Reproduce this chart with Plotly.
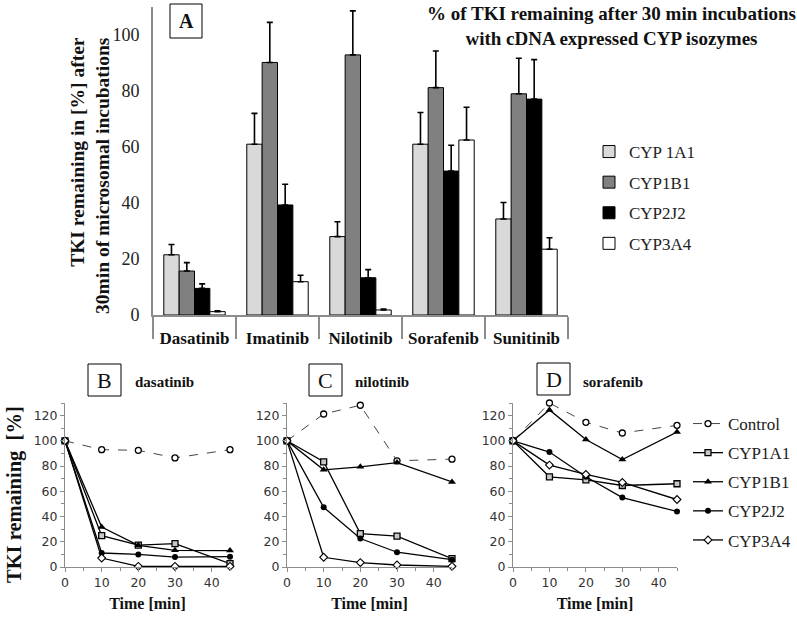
import plotly.graph_objects as go

drugs = ["Dasatinib", "Imatinib", "Nilotinib", "Sorafenib", "Sunitinib"]
cyp_names = ["CYP 1A1", "CYP1B1", "CYP2J2", "CYP3A4"]

# % remaining after 30 min (panel A) and upper error
cyp1a1 = [21.5, 61, 28, 61, 34.3]
cyp1a1_err = [3.7, 11, 5.3, 11.3, 5.9]
cyp1b1 = [15.7, 90.2, 92.9, 81.2, 79]
cyp1b1_err = [3, 14.3, 15.7, 13.1, 12.7]
cyp2j2 = [9.5, 39.3, 13.3, 51.4, 77.1]
cyp2j2_err = [1.6, 7.4, 2.9, 9.2, 14.1]
cyp3a4 = [1.2, 11.9, 1.8, 62.5, 23.5]
cyp3a4_err = [0.3, 2.3, 0.3, 11.7, 4.1]

# time courses (panels B-D)
time_min = [0, 10, 20, 30, 45]
line_names = ["Control", "CYP1A1", "CYP1B1", "CYP2J2", "CYP3A4"]

dasa_control = [100, 93, 92.5, 86.5, 93]
dasa_1a1 = [100, 24.8, 17.4, 18.5, 2.6]
dasa_1b1 = [100, 31.7, 17.2, 13.2, 13]
dasa_2j2 = [100, 11.1, 10, 7.9, 8.2]
dasa_3a4 = [100, 7.1, 0.5, 0.5, 0.5]

nilo_control = [100, 121.3, 128.2, 84.2, 85.5]
nilo_1a1 = [100, 83.4, 26.5, 24.4, 6.6]
nilo_1b1 = [100, 77, 79.4, 82.8, 67.4]
nilo_2j2 = [100, 47.3, 22.6, 11.7, 5.8]
nilo_3a4 = [100, 7.7, 3.5, 1.6, 0.5]

sora_control = [100, 130, 114.7, 106.2, 112.3]
sora_1a1 = [100, 71.5, 69.1, 64.6, 66]
sora_1b1 = [100, 124.5, 101.1, 85.2, 107]
sora_2j2 = [100, 91.1, 71.5, 55, 44]
sora_3a4 = [100, 80.8, 73.4, 67, 53.5]

SERIF = "Liberation Serif"
SANS = "DejaVu Sans"
W, H = 797, 619


def px_x(v):
    return v / W


def px_y(v):
    return 1 - v / H


fig = go.Figure()

bar_colors = ["#d9d9d9", "#808080", "#000000", "#ffffff"]
bar_vals = [cyp1a1, cyp1b1, cyp2j2, cyp3a4]
bar_errs = [cyp1a1_err, cyp1b1_err, cyp2j2_err, cyp3a4_err]
for name, vals, errs, col in zip(cyp_names, bar_vals, bar_errs, bar_colors):
    fig.add_trace(go.Bar(
        x=drugs, y=vals, name=name, xaxis="x", yaxis="y",
        marker=dict(color=col, line=dict(color="black", width=1)),
        error_y=dict(type="data", symmetric=False, array=errs,
                     arrayminus=[0] * len(errs), color="black",
                     thickness=1.6, width=3),
        legend="legend", legendgroup=name,
    ))

styles = [
    dict(line=dict(color="#444", width=1, dash="dash"),
         marker=dict(symbol="circle", size=6, color="white", line=dict(color="black", width=1.3))),
    dict(line=dict(color="black", width=1.3),
         marker=dict(symbol="square", size=6, color="#c8c8c8", line=dict(color="black", width=1.3))),
    dict(line=dict(color="black", width=1.3),
         marker=dict(symbol="triangle-up", size=7, color="black")),
    dict(line=dict(color="black", width=1.3),
         marker=dict(symbol="circle", size=6, color="black")),
    dict(line=dict(color="black", width=1.3),
         marker=dict(symbol="diamond", size=6, color="white", line=dict(color="black", width=1.1))),
]

panels = [
    ("2", [dasa_control, dasa_1a1, dasa_1b1, dasa_2j2, dasa_3a4], True),
    ("3", [nilo_control, nilo_1a1, nilo_1b1, nilo_2j2, nilo_3a4], False),
    ("4", [sora_control, sora_1a1, sora_1b1, sora_2j2, sora_3a4], False),
]
for ax, series, show in panels:
    for name, ys, st in zip(line_names, series, styles):
        fig.add_trace(go.Scatter(
            x=time_min, y=ys, name=name, mode="lines+markers",
            xaxis="x" + ax, yaxis="y" + ax, cliponaxis=False,
            showlegend=show, legend="legend2", legendgroup=name, **st,
        ))

axis_gray = "#8c8c8c"
layout = dict(
    width=W, height=H, margin=dict(l=0, r=0, t=0, b=0, autoexpand=False),
    paper_bgcolor="white", plot_bgcolor="white",
    barmode="group", bargap=0.26, bargroupgap=0,
    xaxis=dict(domain=[px_x(153), px_x(568)], anchor="y", automargin=False,
               showline=True, linecolor=axis_gray, linewidth=2,
               tickson="boundaries", ticks="outside", ticklen=22, tickwidth=2,
               tickcolor=axis_gray, ticklabelstandoff=7,
               tickfont=dict(family=SERIF, size=17, color="#111", weight="bold")),
    yaxis=dict(domain=[px_y(315), px_y(7)], anchor="x", range=[0, 110], automargin=False,
               tickvals=[0, 20, 40, 60, 80, 100], showgrid=False, zeroline=False,
               showline=True, linecolor=axis_gray, linewidth=2, ticks="",
               ticklabelstandoff=8,
               tickfont=dict(family=SERIF, size=18, color="#222")),
    legend=dict(x=px_x(589), y=px_y(134), xanchor="left", yanchor="top",
                traceorder="grouped", tracegroupgap=5.5, itemwidth=30,
                font=dict(family=SERIF, size=17, color="#222")),
    legend2=dict(x=px_x(688), y=px_y(406), xanchor="left", yanchor="top",
                 traceorder="grouped", tracegroupgap=4, itemwidth=30,
                 font=dict(family=SERIF, size=17, color="#222")),
)

bottom_domains = {"2": (65, 230), "3": (287, 452), "4": (513, 677)}
for ax, (x0, x1) in bottom_domains.items():
    layout["xaxis" + ax] = dict(
        domain=[px_x(x0), px_x(x1)], anchor="y" + ax, range=[0, 45], automargin=False,
        tickvals=[0, 10, 20, 30, 40], showgrid=False, zeroline=False,
        showline=True, linecolor=axis_gray, linewidth=1,
        ticks="outside", ticklen=4, tickcolor=axis_gray,
        minor=dict(dtick=5, ticks="outside", ticklen=3, tickcolor=axis_gray),
        tickfont=dict(family=SANS, size=12.5, color="#333"),
        title=dict(text="Time [min]", standoff=8,
                   font=dict(family=SERIF, size=16, color="#111", weight="bold")),
    )
    layout["yaxis" + ax] = dict(
        domain=[px_y(567), px_y(403)], anchor="x" + ax, range=[0, 130], automargin=False,
        tickvals=[0, 20, 40, 60, 80, 100, 120], showgrid=False, zeroline=False,
        showline=True, linecolor=axis_gray, linewidth=1,
        ticks="outside", ticklen=4, tickcolor=axis_gray,
        minor=dict(dtick=10, ticks="outside", ticklen=3, tickcolor=axis_gray),
        tickfont=dict(family=SANS, size=12.5, color="#333"),
    )

fig.update_layout(**layout)

annotations = [
    dict(x=px_x(611), y=px_y(26), text="% of TKI remaining after 30 min incubations<br>with cDNA expressed CYP isozymes",
         font=dict(family=SERIF, size=19, color="#111", weight="bold")),
    dict(x=px_x(90), y=px_y(176), textangle=-90, align="right",
         text="TKI remaining in [%] after<br>30min of microsomal incubations",
         font=dict(family=SERIF, size=19.5, color="#111", weight="bold")),
    dict(x=px_x(186), y=px_y(21), text="A",
         font=dict(family=SERIF, size=20, color="#111", weight="bold")),
    dict(x=px_x(14), y=px_y(495), textangle=-90, text="TKI remaining  [%]",
         font=dict(family=SERIF, size=20.5, color="#111", weight="bold")),
]
boxes = [("B", "dasatinib", 88, 364, 133), ("C", "nilotinib", 309, 364, 353), ("D", "sorafenib", 537, 363, 581)]
for letter, drug, bx, by, tx in boxes:
    annotations.append(dict(x=px_x(bx + 16.5), y=px_y(by + 16.5), text=letter,
                            font=dict(family=SERIF, size=22, color="#111")))
    annotations.append(dict(x=px_x(tx), y=px_y(382), text=drug, xanchor="left",
                            font=dict(family=SERIF, size=15, color="#111", weight="bold")))
for a in annotations:
    a.setdefault("xanchor", "center")
    a.update(xref="paper", yref="paper", showarrow=False, yanchor="middle")
fig.update_layout(annotations=annotations)

shapes = [dict(type="rect", xref="paper", yref="paper",
               x0=px_x(170), x1=px_x(202), y0=px_y(38), y1=px_y(4),
               line=dict(color="black", width=1))]
for letter, drug, bx, by, tx in boxes:
    shapes.append(dict(type="rect", xref="paper", yref="paper",
                       x0=px_x(bx), x1=px_x(bx + 33), y0=px_y(by + 32), y1=px_y(by),
                       line=dict(color="black", width=1)))
fig.update_layout(shapes=shapes)

# page body has a default margin; drop it so the figure fills the window
fig.write_html("out.html", config={"displayModeBar": False},
               post_script="document.body.style.margin='0';")
